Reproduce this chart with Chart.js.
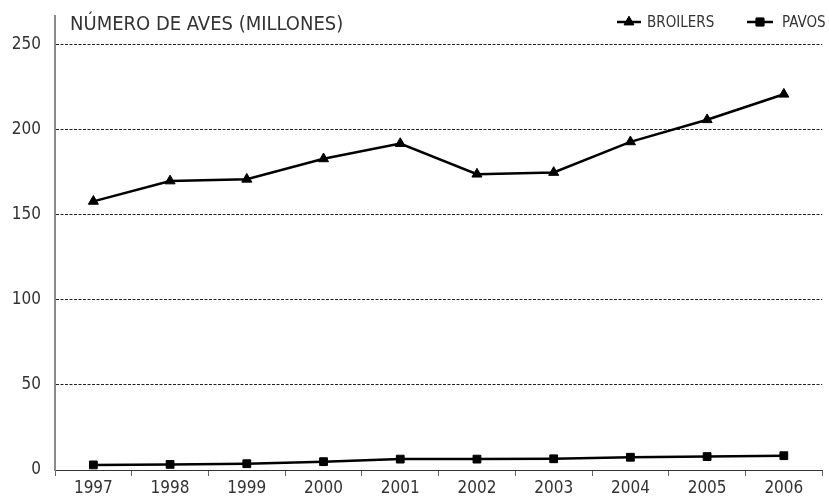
<!DOCTYPE html>
<html>
<head>
<meta charset="utf-8">
<script src="https://cdn.jsdelivr.net/npm/chart.js@4"></script>
<style>
html,body{margin:0;padding:0;background:#fff;}
#wrap{position:relative;width:829px;height:498px;}
</style>
</head>
<body>
<div id="wrap"><canvas id="c" width="829" height="498"></canvas></div>
<script>
const years = ['1997','1998','1999','2000','2001','2002','2003','2004','2005','2006'];
const broilers = [158, 170, 171, 183, 192, 174, 175, 193, 206, 221];
const pavos = [3, 3.3, 3.7, 4.9, 6.4, 6.4, 6.6, 7.5, 7.9, 8.4];
const yTicks = [0, 50, 100, 150, 200, 250];
const titleText = 'NÚMERO DE AVES (MILLONES)';
const seriesNames = ['BROILERS', 'PAVOS'];

const FONT = '"Liberation Sans Narrow", "DejaVu Sans Condensed", "Roboto Condensed", sans-serif';
const TXT = '#333333';
const AXIS = '#8a8a8a';

const overlay = {
  id: 'overlay',
  afterDraw(chart) {
    const ctx = chart.ctx;
    ctx.save();
    ctx.fillStyle = TXT;
    ctx.textBaseline = 'middle';
    ctx.font = '20px ' + FONT;
    ctx.textAlign = 'left';
    ctx.fillText(titleText, 70, 25);
    const items = [
      {x1: 617, x2: 641, text: seriesNames[0], tx: 647, style: 'triangle'},
      {x1: 747, x2: 773, text: seriesNames[1], tx: 782, style: 'rect'}
    ];
    ctx.font = '15px ' + FONT;
    items.forEach(it => {
      const y = 22;
      ctx.strokeStyle = '#000';
      ctx.lineWidth = 2.5;
      ctx.beginPath(); ctx.moveTo(it.x1, y); ctx.lineTo(it.x2, y); ctx.stroke();
      ctx.fillStyle = '#000';
      ctx.lineWidth = 1;
      Chart.helpers.drawPoint(ctx, {pointStyle: it.style, radius: 5.5, borderWidth: 1}, (it.x1 + it.x2) / 2, y);
      ctx.fill();
      ctx.stroke();
      ctx.fillStyle = TXT;
      ctx.fillText(it.text, it.tx, y + 1);
    });
    ctx.restore();
  }
};

new Chart(document.getElementById('c'), {
  type: 'line',
  data: {
    labels: years,
    datasets: [
      {label: seriesNames[0], data: broilers, borderColor: '#000', backgroundColor: '#000', borderWidth: 2.5,
       pointStyle: 'triangle', pointRadius: 5.8, pointBorderWidth: 1, pointBackgroundColor: '#000', pointBorderColor: '#000', tension: 0},
      {label: seriesNames[1], data: pavos, borderColor: '#000', backgroundColor: '#000', borderWidth: 2.5,
       pointStyle: 'rect', pointRadius: 5.5, pointBorderWidth: 1, pointBackgroundColor: '#000', pointBorderColor: '#000', tension: 0}
    ]
  },
  options: {
    responsive: false,
    animation: false,
    layout: {padding: {top: 16, right: 1, left: 0, bottom: 0}},
    plugins: {legend: {display: false}, tooltip: {enabled: false}, title: {display: false}},
    scales: {
      x: {
        offset: true,
        grid: {offset: true, drawOnChartArea: false, drawTicks: true, tickLength: 6, color: '#666', tickColor: '#666'},
        border: {display: true, color: '#333', width: 1},
        ticks: {color: TXT, font: {family: FONT, size: 17}, padding: 2, maxRotation: 0},
        afterFit(s) { s.height = 28; s.paddingLeft = 0; s.paddingRight = 0; }
      },
      y: {
        min: 0, max: 267,
        afterBuildTicks(s) { s.ticks = yTicks.map(v => ({value: v})); },
        grid: {drawTicks: false, color: ctx => (ctx.tick && ctx.tick.value === 0) ? 'rgba(0,0,0,0)' : '#222', lineWidth: 1},
        border: {display: true, color: AXIS, width: 2, dash: [3, 1.5]},
        ticks: {color: TXT, font: {family: FONT, size: 17}, padding: 14},
        afterFit(s) { s.width = 55; s.paddingTop = 0; s.paddingBottom = 0; }
      }
    }
  },
  plugins: [overlay]
});
</script>
</body>
</html>
